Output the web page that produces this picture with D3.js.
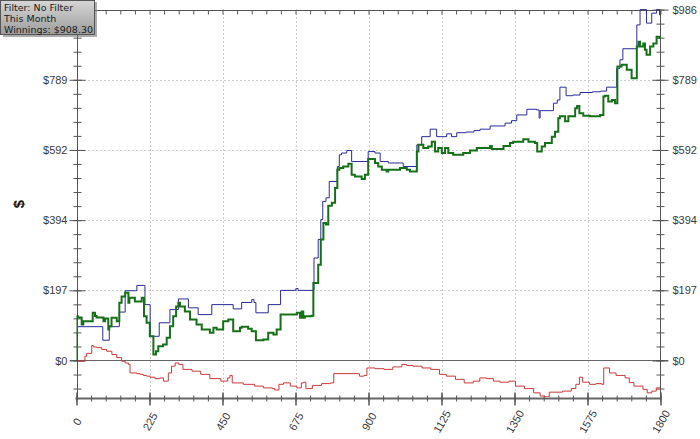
<!DOCTYPE html>
<html><head><meta charset="utf-8">
<script src="https://cdn.jsdelivr.net/npm/d3@7"></script>
<style>html,body{margin:0;padding:0;background:#fff;}svg{display:block;}</style>
</head><body>
<svg id="c" width="700" height="439"></svg>
<script>
// ---- data ----
const xTicks = [0,225,450,675,900,1125,1350,1575,1800];
const yTickValues = [0,197.2,394.4,591.6,788.8,986];
const yTickLabels = ["$0","$197","$394","$592","$789","$986"];
const legendLines = ["Filter: No Filter","This Month","Winnings: $908.30"];

// blue (all-in adjusted) [hands, dollars]
const blueSeries = [[0,0],[3,95],[81,57],[101,95],[132,136],[150,196],[186,211],[211,157],[227,68],[255,106],[288,143],[314,173],[345,148],[375,129],[417,157],[483,145],[509,163],[540,171],[547,163],[553,134],[591,157],[629,197],[676,202],[683,197],[732,288],[745,340],[753,396],[759,447],[769,457],[779,503],[804,545],[810,578],[817,583],[833,590],[848,559],[899,587],[920,583],[936,559],[961,555],[1007,545],[1049,606],[1064,629],[1090,650],[1110,629],[1141,637],[1156,629],[1172,640],[1200,642],[1225,646],[1244,650],[1275,659],[1321,667],[1341,674],[1357,690],[1388,706],[1418,704],[1426,681],[1429,702],[1470,723],[1482,732],[1490,768],[1509,744],[1530,746],[1552,753],[1590,755],[1615,757],[1634,768],[1665,821],[1675,845],[1684,876],[1727,943],[1737,986],[1757,948],[1773,976],[1788,986],[1797,971],[1800,971]];

// green (winnings)
const greenSeries = [[0,0],[1.5,124],[5,121],[16,101],[21,110],[50,134],[57,125],[62,121],[83,110],[88,118],[98,87],[101,96],[108,120],[124,110],[132,162],[139,180],[150,190],[160,162],[163,176],[180,166],[201,176],[208,124],[216,106],[226,68],[237,17],[245,26],[252,40],[267,45],[278,64],[288,96],[298,124],[307,152],[314,162],[319,152],[334,138],[350,115],[370,101],[386,87],[411,78],[422,92],[432,87],[452,110],[468,115],[483,82],[504,92],[509,95],[529,89],[540,82],[553,57],[576,59],[591,78],[607,73],[617,87],[629,129],[679,134],[689,120],[694,138],[699,120],[704,124],[725,126],[730,218],[745,269],[753,340],[761,386],[769,382],[776,435],[787,443],[797,485],[804,536],[810,541],[822,545],[838,553],[848,522],[858,517],[879,510],[889,522],[899,566],[920,555],[930,545],[941,536],[956,531],[961,536],[997,541],[1018,536],[1028,531],[1049,587],[1054,606],[1069,597],[1084,601],[1095,615],[1105,587],[1115,597],[1126,583],[1136,597],[1146,583],[1161,578],[1192,583],[1213,590],[1234,597],[1275,603],[1280,594],[1316,603],[1336,611],[1346,615],[1377,622],[1393,615],[1413,611],[1420,587],[1434,601],[1444,611],[1465,629],[1475,643],[1485,681],[1490,686],[1506,672],[1516,686],[1537,709],[1543,715],[1550,695],[1562,688],[1583,686],[1614,690],[1624,742],[1629,744],[1639,728],[1650,732],[1660,723],[1667,826],[1680,831],[1696,817],[1711,793],[1727,882],[1732,896],[1737,882],[1747,891],[1752,873],[1757,859],[1768,882],[1778,891],[1788,910],[1797,906],[1800,908.3]];

// red
const redSeries = [[0,0],[9,-2],[26,12],[31,20],[47,42],[52,38],[62,36],[78,31],[93,26],[109,17],[124,8],[139,-2],[150,-7],[160,-11],[165,-35],[186,-37],[196,-39],[206,-42],[216,-44],[227,-47],[242,-51],[257,-49],[268,-58],[283,-35],[293,-16],[304,-7],[315,-11],[328,-25],[356,-30],[383,-39],[411,-51],[445,-58],[466,-49],[473,-42],[480,-63],[514,-67],[549,-72],[576,-77],[604,-79],[611,-83],[624,-67],[638,-63],[659,-72],[679,-77],[693,-63],[700,-61],[707,-79],[727,-70],[755,-65],[783,-63],[793,-37],[872,-44],[886,-42],[895,-21],[920,-23],[948,-25],[975,-18],[1003,-11],[1017,-14],[1037,-16],[1065,-21],[1092,-25],[1119,-39],[1140,-44],[1168,-53],[1195,-63],[1223,-58],[1243,-49],[1264,-51],[1285,-58],[1305,-61],[1333,-58],[1353,-72],[1381,-79],[1409,-91],[1429,-100],[1443,-102],[1457,-89],[1498,-86],[1525,-79],[1539,-67],[1550,-47],[1560,-61],[1581,-67],[1601,-65],[1619,-67],[1625,-21],[1643,-35],[1663,-42],[1691,-49],[1704,-62],[1718,-72],[1746,-81],[1759,-91],[1773,-86],[1787,-77],[1800,-76]];

// ---- layout ----
const svg = d3.select("#c");
const L = 76.5, R = 660.5, T = 9.6, B = 397.5;
const x = d3.scaleLinear().domain([0,1800]).range([L,R]);
const y = d3.scaleLinear().domain([-104,986]).range([B,T]);
const axisColor = "#555";
const textColor = "#3a3a3a";
const font = "'Liberation Sans', Arial, sans-serif";

// grid
const g = svg.append("g");
g.selectAll(".vg").data(xTicks.slice(1,-1)).enter().append("line")
  .attr("x1",d=>Math.round(x(d))+0.5).attr("x2",d=>Math.round(x(d))+0.5)
  .attr("y1",T).attr("y2",B).attr("stroke","#999").attr("stroke-dasharray","1,3");
g.selectAll(".hg").data(yTickValues.slice(1,-1)).enter().append("line")
  .attr("y1",d=>Math.round(y(d))+0.5).attr("y2",d=>Math.round(y(d))+0.5)
  .attr("x1",L).attr("x2",R).attr("stroke","#999").attr("stroke-dasharray","1,3");

// zero line
svg.append("line").attr("x1",70).attr("x2",668)
  .attr("y1",Math.round(y(0))+0.5).attr("y2",Math.round(y(0))+0.5)
  .attr("stroke","#666").attr("stroke-width",1);

const minorY = d3.range(-78.88, 986.1, 39.44);
const minorX = d3.range(0, 1800.1, 45);

// left axis (top label hidden under the legend box in the original)
const yAxisL = d3.axisLeft(y).tickValues(minorY).tickSize(4).tickFormat("");
const gl = svg.append("g").attr("transform",`translate(${Math.round(L)+0.5},0)`).call(yAxisL);
gl.selectAll("line").attr("x2",-4).attr("x1",4).attr("stroke",axisColor);
gl.select(".domain").attr("stroke",axisColor).attr("d",`M0,${T}V${B}`);
const yAxisLMaj = d3.axisLeft(y).tickValues(yTickValues.slice(0,-1)).tickSize(8).tickFormat((d,i)=>yTickLabels[i]);
const glm = svg.append("g").attr("transform",`translate(${Math.round(L)+0.5},0)`).call(yAxisLMaj);
glm.select(".domain").remove();
glm.selectAll("line").attr("x1",8).attr("stroke",axisColor);
glm.selectAll("text").attr("x",-10).attr("fill",textColor).style("font-family",font).style("font-size","11px");

// right axis
const yAxisR = d3.axisRight(y).tickValues(minorY).tickSize(4).tickFormat("");
const gr = svg.append("g").attr("transform",`translate(${Math.round(R)-0.5},0)`).call(yAxisR);
gr.selectAll("line").attr("x1",-4).attr("stroke",axisColor);
gr.select(".domain").attr("stroke",axisColor).attr("d",`M0,${T}V${B}`);
const yAxisRMaj = d3.axisRight(y).tickValues(yTickValues).tickSize(8).tickFormat((d,i)=>yTickLabels[i]);
const grm = svg.append("g").attr("transform",`translate(${Math.round(R)-0.5},0)`).call(yAxisRMaj);
grm.select(".domain").remove();
grm.selectAll("line").attr("x1",-8).attr("stroke",axisColor);
grm.selectAll("text").attr("x",12).attr("fill",textColor).style("font-family",font).style("font-size","11px");

// top axis
const xAxisT = d3.axisBottom(x).tickValues(minorX).tickSize(4).tickFormat("");
const gt = svg.append("g").attr("transform",`translate(0,${Math.round(T)+0.5})`).call(xAxisT);
gt.selectAll("line").attr("stroke",axisColor);
gt.select(".domain").attr("stroke",axisColor).attr("d",`M${L},0H${R}`);

// bottom axis
const xAxisB = d3.axisBottom(x).tickValues(minorX).tickSize(3).tickFormat("");
const gb = svg.append("g").attr("transform",`translate(0,${Math.round(B)+0.5})`).call(xAxisB);
gb.selectAll("line").attr("y1",-3).attr("stroke",axisColor);
gb.select(".domain").attr("stroke","#666").attr("stroke-width",2).attr("d",`M${L-1},0H${R+1}`);
const xAxisBMaj = d3.axisBottom(x).tickValues(xTicks).tickSize(7).tickFormat(d=>d);
const gbm = svg.append("g").attr("transform",`translate(0,${Math.round(B)+0.5})`).call(xAxisBMaj);
gbm.select(".domain").remove();
gbm.selectAll("line").attr("y1",-6).attr("stroke",axisColor).attr("stroke-width",1.5);
gbm.selectAll("text").attr("y",0).attr("dy",null)
  .attr("transform","translate(0,23) rotate(-60)")
  .attr("text-anchor","middle").attr("dominant-baseline","central")
  .attr("fill",textColor).style("font-family",font).style("font-size","11px");

// axis title
svg.append("text").attr("transform","translate(18,204) rotate(-90)")
  .attr("text-anchor","middle").attr("dominant-baseline","central")
  .attr("font-weight","bold").attr("font-size","15px").attr("fill","#111")
  .style("font-family",font).text("$");

// clip
svg.append("clipPath").attr("id","clip").append("rect")
  .attr("x",L).attr("y",T-0.5).attr("width",R-L).attr("height",B-T);

const line = d3.line().x(d=>x(d[0])).y(d=>y(d[1])).curve(d3.curveStepAfter);
const plot = svg.append("g").attr("clip-path","url(#clip)");
plot.append("path").datum(redSeries).attr("d",line).attr("fill","none")
  .attr("stroke","#c83a3a").attr("stroke-width",1);
plot.append("path").datum(blueSeries).attr("d",line).attr("fill","none")
  .attr("stroke","#2b2b9a").attr("stroke-width",1);
plot.append("path").datum(greenSeries).attr("d",line).attr("fill","none")
  .attr("stroke","#16701a").attr("stroke-width",2);

// legend box
const defs = svg.append("defs");
const grad = defs.append("linearGradient").attr("id","lg").attr("x1",0).attr("y1",0).attr("x2",0).attr("y2",1);
grad.append("stop").attr("offset","0%").attr("stop-color","#d6d6d6");
grad.append("stop").attr("offset","100%").attr("stop-color","#9c9c9c");
svg.append("rect").attr("x",3).attr("y",2).attr("width",94).attr("height",35).attr("fill","#777").attr("opacity",0.6);
svg.append("rect").attr("x",0.5).attr("y",0.5).attr("width",94).attr("height",34)
  .attr("fill","url(#lg)").attr("stroke","#555");
svg.selectAll(".lt").data(legendLines).enter().append("text")
  .attr("x",4).attr("y",(d,i)=>11+i*11)
  .attr("fill","#1a1a1a").style("font-family","'DejaVu Sans', Verdana, sans-serif")
  .style("font-size","9.5px").text(d=>d);
</script>
</body></html>
